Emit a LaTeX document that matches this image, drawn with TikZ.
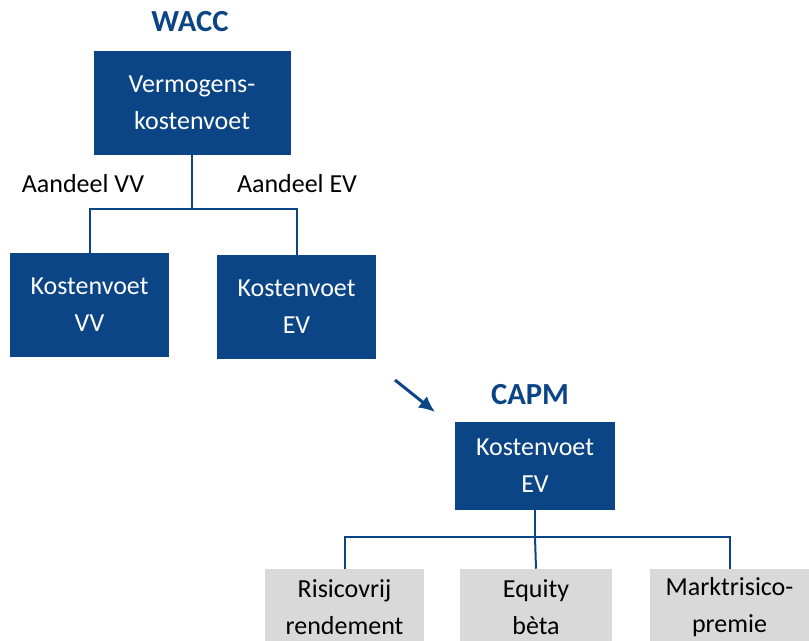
\documentclass[tikz,border=0pt]{standalone}
\usepackage{fontspec}
\setmainfont{Carlito}
\usetikzlibrary{arrows.meta}
\definecolor{navy}{RGB}{11,69,134}
\definecolor{lightgrey}{RGB}{217,217,217}
\tikzset{
  bluebox/.style={rectangle, fill=navy, text=white, align=center, inner sep=0pt},
  greybox/.style={rectangle, fill=lightgrey, text=black, align=center, inner sep=0pt},
  title/.style={text=navy, font=\fontsize{23}{28}\selectfont\bfseries},
  conn/.style={draw=navy, line width=1.5pt},
}

\begin{document}
\begin{tikzpicture}[x=0.75pt,y=-0.75pt,font=\fontsize{19.5}{27.75}\selectfont]
\useasboundingbox (0,0) rectangle (809,641);
\clip (0,0) rectangle (809,641);
% WACC part
\node[title] (wacc) at (190,22) {WACC};
\node[bluebox, minimum width=147.75pt, minimum height=78pt] (vk) at (192,103) {Vermogens-\\kostenvoet};
\node[bluebox, minimum width=119.25pt, minimum height=78pt] (kvv) at (89.5,305) {Kostenvoet\\VV};
\node[bluebox, minimum width=119.25pt, minimum height=78pt] (kev) at (296.5,307) {Kostenvoet\\EV};
\node (avv) at (83,184) {Aandeel VV};
\node (aev) at (297,184) {Aandeel EV};
\draw[conn] (vk.south) -- ++(0,54) coordinate (splitA) -| (kvv.north);
\draw[conn] (splitA) -| (kev.north);
% arrow
\coordinate (arrS) at (395,380); \coordinate (arrE) at (435,412);
\draw[navy, line width=2.25pt, -{Latex[length=12pt,width=11pt]}] (arrS) -- (arrE);
% CAPM part
\node[title] (capm) at (530,395) {CAPM};
\node[bluebox, minimum width=120pt, minimum height=66pt] (cev) at (535,466) {Kostenvoet\\EV};
\node[greybox, minimum width=119.25pt, minimum height=57pt] (rr) at (344.5,607) {Risicovrij\\rendement};
\node[greybox, minimum width=114pt, minimum height=57pt] (eb) at (536,607) {Equity\\bèta};
\node[greybox, minimum width=119.25pt, minimum height=57pt] (mp) at (729.5,607) {Marktrisico-\\premie};
\draw[conn] (cev.south) -- ++(0,27) coordinate (splitB) -| (rr.north);
\draw[conn] (splitB) -- (eb.north);
\draw[conn] (splitB) -| (mp.north);
\end{tikzpicture}
\end{document}
